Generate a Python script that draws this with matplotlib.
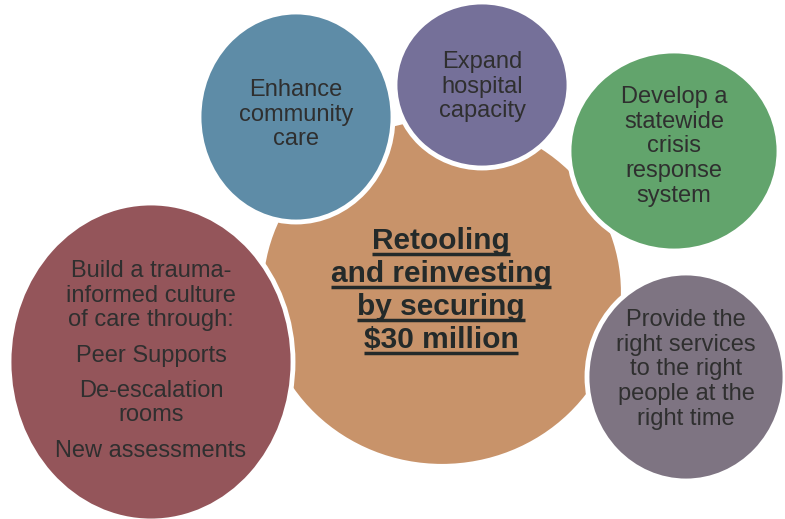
import matplotlib
matplotlib.use("Agg")
import matplotlib.pyplot as plt
from matplotlib.patches import Ellipse

# ---- content ----
center_title = ["Retooling", "and reinvesting", "by securing", "$30 million"]
bubble_labels = [
    ["Enhance", "community", "care"],
    ["Expand", "hospital", "capacity"],
    ["Develop a", "statewide", "crisis", "response", "system"],
    ["Build a trauma-", "informed culture", "of care through:", "", "Peer Supports", "",
     "De-escalation", "rooms", "", "New assessments"],
    ["Provide the", "right services", "to the right", "people at the", "right time"],
]

# ---- layout (pixel space) ----
center_geom = dict(xy=(442, 292), w=362, h=348, color="#c8936a")
bubble_geom = [
    dict(xy=(296, 117), w=194, h=210, color="#5e8ca7", text_y=90),
    dict(xy=(482, 85), w=174, h=166, color="#757099", text_y=62),
    dict(xy=(674, 151), w=210, h=200, color="#62a46c", text_y=97),
    dict(xy=(151, 362), w=284, h=318, color="#94555a", text_y=271),
    dict(xy=(686, 377), w=198, h=208, color="#7e7482", text_y=320),
]

W, H = 785, 519
fig = plt.figure(figsize=(W / 100, H / 100), dpi=100)
ax = fig.add_axes([0, 0, 1, 1])
ax.set_xlim(0, W)
ax.set_ylim(H, 0)
ax.axis("off")

FONT = "Liberation Sans"
TXT = "#2f2f2f"

ax.add_patch(Ellipse(center_geom["xy"], center_geom["w"], center_geom["h"],
                     facecolor=center_geom["color"], edgecolor="white", lw=3, zorder=1))

for g, lines in zip(bubble_geom, bubble_labels):
    ax.add_patch(Ellipse(g["xy"], g["w"], g["h"], facecolor=g["color"],
                         edgecolor="white", lw=3.5, zorder=2))
    y = g["text_y"]
    for ln in lines:
        if ln == "":
            y += 10.5
            continue
        ax.text(g["xy"][0], y, ln, ha="center", va="center", fontsize=17,
                family=FONT, color=TXT, zorder=3)
        y += 24.7

title_texts = []
ty = 241
for ln in center_title:
    t = ax.text(441, ty, ln, ha="center", va="center", fontsize=21.5,
                family=FONT, weight="bold", color="#242a2a", zorder=3)
    title_texts.append(t)
    ty += 33

fig.canvas.draw()
r = fig.canvas.get_renderer()
inv = ax.transData.inverted()
for t in title_texts:
    bb = t.get_window_extent(renderer=r)
    (x0, y0), (x1, y1) = inv.transform([(bb.x0, bb.y0), (bb.x1, bb.y1)])
    ax.plot([x0, x1], [y0 - 1, y0 - 1], color="#242a2a", lw=2.5,
            solid_capstyle="butt", zorder=3)

fig.savefig("out.png", dpi=100, facecolor="white")
